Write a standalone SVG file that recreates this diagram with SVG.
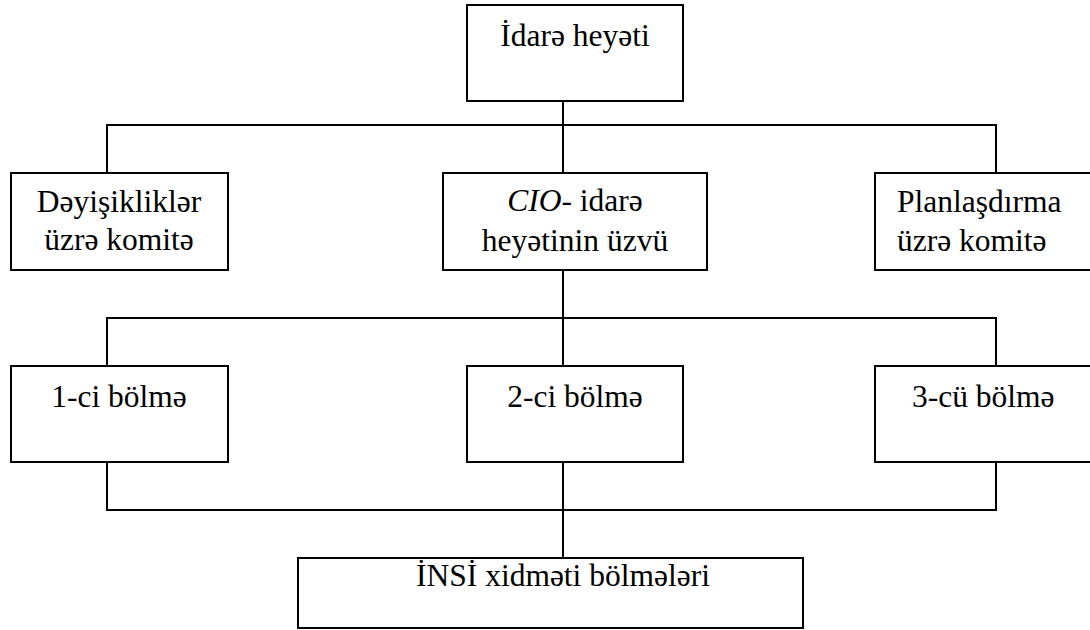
<svg xmlns="http://www.w3.org/2000/svg" width="1090" height="630" viewBox="0 0 1090 630">
<style>
.box{fill:#fff;stroke:#000;stroke-width:2}
.ln{stroke:#000;stroke-width:2;fill:none}
.c{text-anchor:middle}
</style>
<rect width="1090" height="630" fill="#fff"/>
<g id="connectors">
<path class="ln" d="M563,101V125M107,173V125H996V173M563,125V173"/>
<path class="ln" d="M563,270V318M107,366V318H996V366M563,318V366"/>
<path class="ln" d="M107,462V510H996V462M563,462V558"/>
</g>
<g font-family="Liberation Serif, serif" font-size="31.5" fill="#000">
<g id="n-board"><rect class="box" x="467" y="5" width="216" height="96"/><text class="c" x="575" y="46">İdarə heyəti</text></g>
<g id="n-change"><rect class="box" x="11" y="173" width="217" height="97"/><text class="c" x="119" y="212">Dəyişikliklər</text><text class="c" x="119" y="250">üzrə komitə</text></g>
<g id="n-cio"><rect class="box" x="443" y="173" width="264" height="97"/><text class="c" x="575" y="211"><tspan font-style="italic">CIO</tspan>- idarə</text><text class="c" x="575" y="251">heyətinin üzvü</text></g>
<g id="n-plan"><rect class="box" x="875" y="173" width="220" height="97"/><text x="897" y="212">Planlaşdırma</text><text x="897" y="251">üzrə komitə</text></g>
<g id="n-s1"><rect class="box" x="11" y="366" width="217" height="96"/><text class="c" x="119" y="407">1-ci bölmə</text></g>
<g id="n-s2"><rect class="box" x="467" y="366" width="216" height="96"/><text class="c" x="575" y="407">2-ci bölmə</text></g>
<g id="n-s3"><rect class="box" x="875" y="366" width="220" height="96"/><text x="912" y="407">3-cü bölmə</text></g>
<g id="n-ict"><rect class="box" x="298" y="558" width="505" height="70"/><text class="c" x="563" y="586">İNSİ xidməti bölmələri</text></g>
</g>
</svg>
